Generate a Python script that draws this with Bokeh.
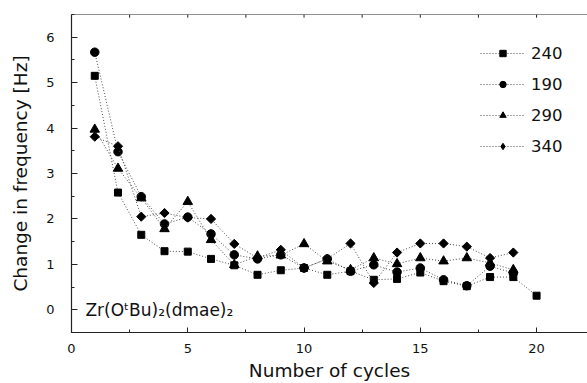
from bokeh.plotting import figure
from bokeh.models import (SingleIntervalTicker, Range1d, Legend,
                          LegendItem, Label, Span)
from bokeh.embed import file_html
from bokeh.resources import INLINE
import math

# ---- data ----
cycles20 = list(range(1, 21))
cycles19 = list(range(1, 20))
s240 = [5.15, 2.58, 1.65, 1.29, 1.28, 1.12, 0.98, 0.77, 0.87, 0.92,
        0.77, 0.85, 0.66, 0.68, 0.82, 0.63, 0.52, 0.72, 0.72, 0.31]
s190 = [5.67, 3.48, 2.49, 1.89, 2.04, 1.67, 1.21, 1.12, 1.21, 0.92,
        1.12, 0.85, 0.99, 0.83, 0.92, 0.66, 0.53, 0.96, 0.81]
s290 = [3.97, 3.11, 2.46, 1.78, 2.38, 1.54, 0.99, 1.18, 1.20, 1.45,
        1.07, 0.88, 1.14, 1.01, 1.14, 1.07, 1.14, 1.03, 0.88]
s340 = [3.81, 3.60, 2.05, 2.13, 2.03, 2.00, 1.45, 1.14, 1.32, 0.92,
        1.12, 1.46, 0.59, 1.26, 1.46, 1.46, 1.39, 1.14, 1.26]
series_names = ["240", "190", "290", "340"]
x_ticks = [0, 2.5, 5, 7.5, 10, 12.5, 15, 17.5, 20, 22.5]

FONT = "DejaVu Sans"
TXT = "#111111"
AX = "#222222"

p = figure(width=587, height=383, output_backend="svg", toolbar_location=None,
           x_range=Range1d(0, 22.19), y_range=Range1d(-0.5, 6.5),
           min_border_left=71, min_border_right=0, min_border_top=14,
           min_border_bottom=50, x_axis_label="Number of cycles",
           y_axis_label="Change in frequency [Hz]")
p.outline_line_color = None
p.grid.visible = False
p.background_fill_color = "white"
p.border_fill_color = "white"

xa = p.xaxis[0]
xa.ticker = SingleIntervalTicker(interval=5, num_minor_ticks=2)
ya = p.yaxis[0]
ya.ticker = SingleIntervalTicker(interval=1, num_minor_ticks=2)

for ax in (xa, ya):
    ax.axis_line_color = AX
    ax.axis_line_width = 1.2
    ax.major_tick_line_color = AX
    ax.minor_tick_line_color = AX
    ax.major_tick_out = 0
    ax.minor_tick_out = 0
    ax.major_tick_in = 6
    ax.minor_tick_in = 3
    ax.major_label_text_font = FONT
    ax.major_label_text_font_size = "13px"
    ax.major_label_text_color = TXT
    ax.axis_label_text_font = FONT
    ax.axis_label_text_font_size = "18.5px"
    ax.axis_label_text_font_style = "normal"
    ax.axis_label_text_color = TXT
xa.major_tick_in = 5
xa.major_label_standoff = 11
xa.axis_label_standoff = 4
ya.major_label_standoff = 17
ya.axis_label_standoff = 12

# top border of the frame with small inward tick marks
p.add_layout(Span(location=6.5, dimension="width", line_color=AX,
                  line_width=1.2))
p.segment(x0=x_ticks, x1=x_ticks, y0=[6.5] * len(x_ticks),
          y1=[6.43] * len(x_ticks), line_color=AX, line_width=1)

LINE_COLOR = "#4a4a4a"
DASH = "1 2"

specs = [
    (cycles20, s240, dict(marker="square", size=7, angle=0, leg="square")),
    (cycles19, s190, dict(marker="circle", size=8.5, angle=0, leg="circle")),
    (cycles19, s290, dict(marker="triangle", size=9.5, angle=0, leg="triangle")),
    (cycles19, s340, dict(marker="square", size=6.5, angle=math.pi / 4,
                          leg="diamond")),
]
items = []
for name, (xs, ys, m) in zip(series_names, specs):
    lr = p.line(xs, ys, line_color=LINE_COLOR, line_width=1, line_dash=DASH)
    p.scatter(xs, ys, marker=m["marker"], size=m["size"], angle=m["angle"],
              fill_color="black", line_color="black")
    # hidden twin, used only to draw the legend key
    leg_r = p.scatter(xs, ys, marker=m["leg"], size=7, visible=False,
                      fill_color="black", line_color="black")
    items.append(LegendItem(label=name, renderers=[lr, leg_r]))

legend = Legend(items=items, location=(409, 176), orientation="vertical")
legend.padding = 0
legend.margin = 0
legend.spacing = 11
legend.glyph_width = 45
legend.glyph_height = 16
legend.label_height = 20
legend.label_standoff = 6
legend.label_text_font = FONT
legend.label_text_font_size = "16.5px"
legend.label_text_color = TXT
legend.border_line_color = None
legend.background_fill_alpha = 0
legend.inactive_fill_alpha = 0
legend.click_policy = "none"
p.add_layout(legend, "center")

lab = Label(x=0.6, y=0.0, text="Zr(O\u1d57Bu)\u2082(dmae)\u2082",
            text_font=FONT, text_font_size="17px", text_color=TXT,
            text_baseline="alphabetic")
p.add_layout(lab)

open("out.html", "w").write(file_html(p, INLINE))
